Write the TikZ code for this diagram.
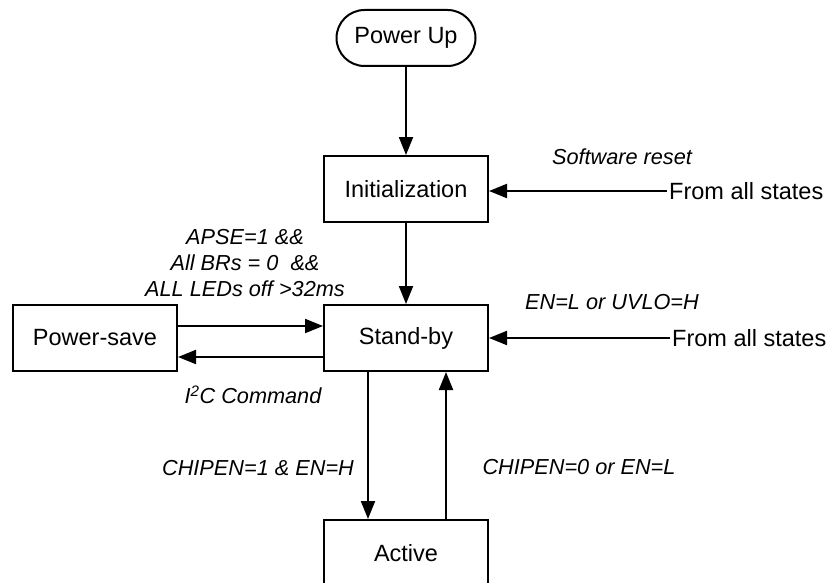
\documentclass[tikz,border=0pt]{standalone}
\usepackage{fontspec}
\setmainfont{Liberation Sans}
\usetikzlibrary{arrows.meta,shapes.misc}
\begin{document}
\begin{tikzpicture}[x=1pt,y=-1pt,
 box/.style={draw,line width=2pt,minimum width=164pt,minimum height=66pt,inner sep=0pt,font=\fontsize{23.5}{28}\selectfont},
 term/.style={draw,line width=2pt,rounded rectangle,minimum width=139pt,minimum height=56pt,inner sep=0pt,font=\fontsize{23.5}{28}\selectfont},
 lbl/.style={inner sep=0pt,font=\fontsize{21.7}{26}\selectfont\itshape},
 plain/.style={inner sep=2pt,font=\fontsize{23.5}{28}\selectfont},
 conn/.style={line width=2pt,-{Triangle[length=18pt,width=14pt]}}]
\useasboundingbox (0,0) rectangle (832,583);
\clip (0,0) rectangle (832,583);
\node[term] (pu) at (406,38) {Power Up};
\node[box] (init) at (406,189) {Initialization};
\node[box] (sb) at (406,338) {Stand-by};
\node[box] (ps) at (95,338) {Power-save};
\node[box] (act) at (406,553) {Active};
\node[plain,anchor=west] (from1) at (667,191) {From all states};
\node[plain,anchor=west] (from2) at (670,338) {From all states};
\node[lbl] (sw) at (622,157) {Software reset};
\node[lbl] (en) at (612,302) {EN=L or UVLO=H};
\node[lbl,align=center] (apse) at (245,263) {APSE=1 \&\&\\All BRs = 0\ \ \&\&\\ALL LEDs off >32ms};
\node[lbl] (i2c) at (253,395) {I\textsuperscript{2}C Command};
\node[lbl] (chip1) at (258,468) {CHIPEN=1 \& EN=H};
\node[lbl] (chip0) at (579,467) {CHIPEN=0 or EN=L};
\draw[conn] (pu.south) -- (init.north);
\draw[conn] (init.south) -- (sb.north);
\draw[conn] (from1.west) -- (from1.west -| init.east);
\draw[conn] (from2.west) -- (from2.west -| sb.east);
\draw[conn] ([yshift=12pt]ps.east) -- ([yshift=12pt]sb.west);
\draw[conn] ([yshift=-19pt]sb.west) -- ([yshift=-19pt]ps.east);
\draw[conn] ([xshift=-38pt]sb.south) -- ([xshift=-38pt]act.north);
\draw[conn] ([xshift=40pt]act.north) -- ([xshift=40pt]sb.south);
\end{tikzpicture}
\end{document}
